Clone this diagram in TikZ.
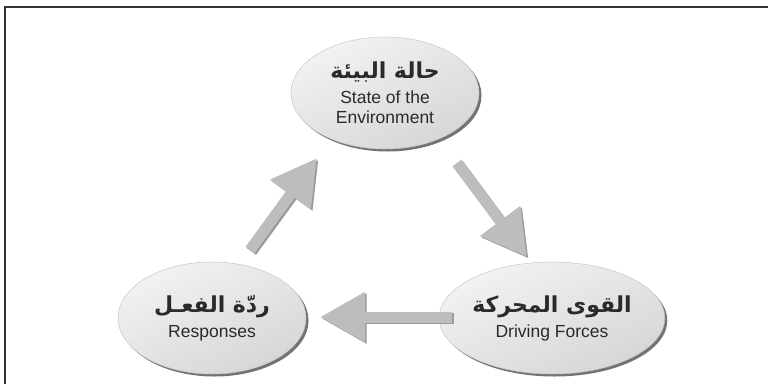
\documentclass[tikz,border=0pt]{standalone}
\usepackage{fontspec}
\setmainfont{Liberation Sans}
\newfontfamily\arabicfont[Script=Arabic]{DejaVu Sans}
\TeXXeTstate=1
\usetikzlibrary{arrows.meta,shapes.geometric,shadows}
\definecolor{txtgray}{HTML}{2A2A2A}
\definecolor{arrowgray}{HTML}{BDBDBD}
\definecolor{arrowshade}{HTML}{9A9A9A}
\tikzset{
  bubble/.style={ellipse, minimum width=188pt, minimum height=112pt, inner sep=0pt,
    draw=black!22, line width=0.5pt,
    top color=black!5, bottom color=black!16, shading angle=25,
    general shadow={fill=black!55, shadow xshift=2.5pt, shadow yshift=-2.5pt},
    align=center, text=txtgray, font=\fontsize{17.5}{20}\selectfont},
  bigarrow/.style={draw=arrowgray, line width=11pt,
    -{Triangle[length=45pt, width=47pt]}},
  arrowshadow/.style={draw=arrowshade, line width=11pt,
    -{Triangle[length=45pt, width=47pt]},
    transform canvas={shift={(1.6pt,-1.6pt)}}},
  framestyle/.style={draw=black!80, line width=2pt}
}
\newcommand\arabictxt[1]{{\arabicfont\bfseries\fontsize{22}{25}\selectfont\beginR #1\endR}}
\begin{document}
\begin{tikzpicture}[x=1pt,y=-1pt]
\useasboundingbox (0,0) rectangle (768,384);
\fill[white] (0,0) rectangle (768,384);
\coordinate (fTR) at (768,7);
\coordinate (fTL) at (5,7);
\coordinate (fBL) at (5,384);
\draw[framestyle] (fTR) -- (fTL) -- (fBL);

\node[bubble] (state) at (385,93) {\arabictxt{حالة البيئة}\\[5pt]State of the\\Environment};
\node[bubble] (drive) at (552,318) {\arabictxt{القوى المحركة}\\[5pt]Driving Forces};
\node[bubble] (resp) at (212,318) {\arabictxt{ردّة الفعـل}\\[5pt]Responses};

\coordinate (a1s) at (250,250);
\coordinate (a1e) at (317,158);
\coordinate (a2s) at (457,163);
\coordinate (a2e) at (527,257);
\coordinate (a3s) at (452,317);
\coordinate (a3e) at (320,317);

\draw[arrowshadow] (a1s) -- (a1e);
\draw[arrowshadow] (a2s) -- (a2e);
\draw[arrowshadow] (a3s) -- (a3e);
\draw[bigarrow] (a1s) -- (a1e);
\draw[bigarrow] (a2s) -- (a2e);
\draw[bigarrow] (a3s) -- (a3e);
\end{tikzpicture}
\end{document}
